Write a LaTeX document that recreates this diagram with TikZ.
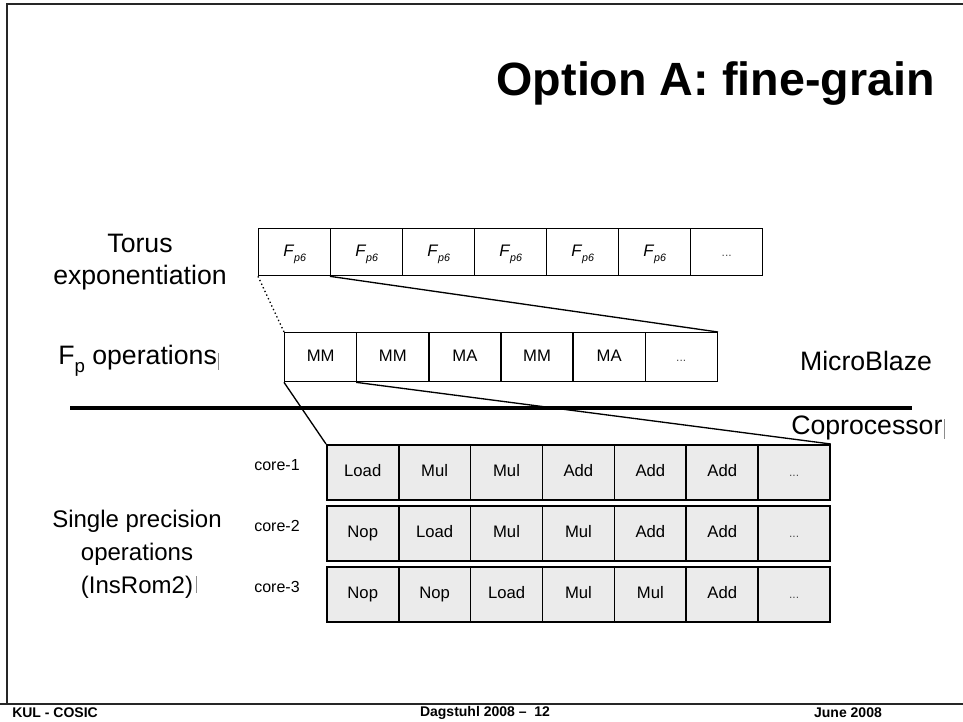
\documentclass[tikz,border=0pt]{standalone}
\usepackage{fontspec}
\setmainfont{Liberation Sans}
\newcommand\fpsix{\textit{F}\raisebox{-0.55ex}{\fontsize{8}{9}\selectfont\textit{p6}}}
\newcommand\celldots{{\color{black!70}\fontsize{9}{10}\selectfont...}}
\begin{document}
\begin{tikzpicture}[x=0.75pt,y=-0.75pt,
  cellbase/.style={draw,line width=1pt,rectangle,inner sep=0pt,anchor=north west,
    font=\fontsize{12.5}{14}\selectfont,text height=8.8pt,text depth=2.4pt},
  toprow/.style={cellbase,minimum width=54pt,minimum height=35.25pt},
  midrow/.style={cellbase,minimum width=54.1pt,minimum height=36.75pt},
  gridcell/.style={cellbase,fill=black!8,line width=1.2pt,minimum width=53.9pt,minimum height=41.5pt},
  label/.style={inner sep=0pt,font=\fontsize{20}{24.5}\selectfont},
  corelabel/.style={inner sep=0pt,font=\fontsize{12}{14}\selectfont},
  foot/.style={inner sep=0pt,font=\bfseries\fontsize{10.5}{12}\selectfont},
  caret/.style={black!45,line width=0.7pt}]
\useasboundingbox (0,0) rectangle (963,721);

% slide frame
\draw[line width=1.3pt,black!85] (963,4) -- (7,4) -- (7,704);
\draw[line width=1.3pt,black!85] (0,704) -- (963,704);

% title
\node[inner sep=0pt,anchor=east,font=\bfseries\fontsize{35}{40}\selectfont] (title) at (935,84) {Option A: fine-grain};

% level labels
\node[label,align=center] (torus) at (140,262) {Torus\\exponentiation};
\node[label,anchor=west] (fpops) at (58,361) {F\raisebox{-0.6ex}{\fontsize{14}{16}\selectfont p} operations};
\node[label] (mb) at (866,361) {MicroBlaze};
\node[label,anchor=west] (copro) at (791,428) {Coprocessor};
\node[label,align=center,font=\fontsize{18}{24.75}\selectfont] (single) at (137,554) {Single precision\\operations\\(InsRom2)};

\draw[caret] (fpops.east) ++(1,-8) -- ++(0,17);
\draw[caret] (copro.east) ++(2,-9) -- ++(0,20);
\draw[caret] (single.south) ++(59,-22) -- ++(0,17);

% torus exponentiation row
\foreach \k in {1,...,6}
  \node[toprow] (t\k) at ({258+72*(\k-1)},228) {\fpsix};
\node[toprow] (t7) at (690,228) {\celldots};

% F_p operations row
\foreach \t [count=\k] in {MM,MM,MA,MM,MA}
  \node[midrow] (m\k) at ({284+72.1*(\k-1)},332) {\t};
\node[midrow] (m6) at (644.5,332) {\celldots};

% hardware/software boundary
\draw[line width=3pt] (70,408) -- (912,408);

% coprocessor schedule, one row per core
\foreach \r/\y/\items in {1/444/{Load,Mul,Mul,Add,Add,Add},
                          2/505/{Nop,Load,Mul,Mul,Add,Add},
                          3/566/{Nop,Nop,Load,Mul,Mul,Add}}{
  \foreach \t [count=\c] in \items
    \node[gridcell] (g\r-\c) at ({326+71.9*(\c-1)},\y) {\t};
  \node[gridcell] (g\r-7) at ({326+71.9*6},\y) {\celldots};
  \node[corelabel] (core\r) at (277,\y+21) {core-\r};
}

% zoom connectors
\draw[line width=1pt,dotted] (t1.south west) -- (m1.north west);
\draw[line width=1pt] (t2.south west) -- (m6.north east);
\draw[line width=1pt] (m1.south west) -- (g1-1.north west);
\draw[line width=1pt] (m2.south west) -- (g1-7.north east);

% footer
\node[foot,anchor=west] (org) at (12,713) {KUL - COSIC};
\node[foot] (event) at (485,713) {Dagstuhl 2008 –\ \ 12};
\node[foot] (date) at (848,713) {June 2008};
\end{tikzpicture}
\end{document}
